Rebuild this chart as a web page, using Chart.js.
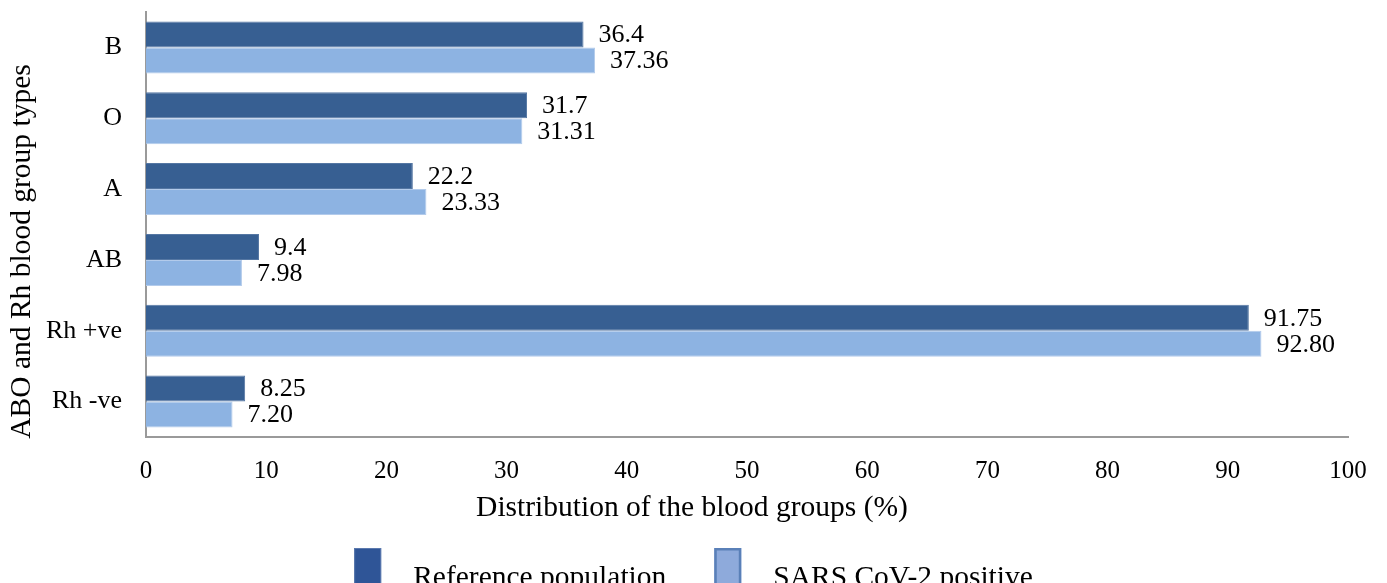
<!DOCTYPE html>
<html>
<head>
<meta charset="utf-8">
<script src="https://cdn.jsdelivr.net/npm/chart.js@4/dist/chart.umd.min.js"></script>
<style>
  html, body { margin: 0; padding: 0; background: #fff; overflow: hidden; }
  #wrap { width: 1387px; height: 583px; }
</style>
</head>
<body>
<div id="wrap"><canvas id="chart"></canvas></div>
<script>
(function () {
  const categories = ["B", "O", "A", "AB", "Rh +ve", "Rh -ve"];
  const referencePop = [36.4, 31.7, 22.2, 9.4, 91.75, 8.25];
  const sarsPositive = [37.36, 31.31, 23.33, 7.98, 92.8, 7.2];
  const referenceText = ["36.4", "31.7", "22.2", "9.4", "91.75", "8.25"];
  const sarsText = ["37.36", "31.31", "23.33", "7.98", "92.80", "7.20"];
  const xTicks = [0, 10, 20, 30, 40, 50, 60, 70, 80, 90, 100];
  const seriesNames = ["Reference population", "SARS CoV-2 positive"];

  const dark = "#375F92";
  const light = "#8DB3E2";
  const serif = "'Liberation Serif', 'Times New Roman', serif";

  // value labels to the right of each bar
  const valueLabels = {
    id: "valueLabels",
    afterDatasetsDraw: function (chart) {
      const ctx = chart.ctx;
      const texts = [referenceText, sarsText];
      ctx.save();
      ctx.font = "26px " + serif;
      ctx.fillStyle = "#000";
      ctx.textAlign = "left";
      ctx.textBaseline = "middle";
      chart.data.datasets.forEach(function (ds, i) {
        const meta = chart.getDatasetMeta(i);
        meta.data.forEach(function (bar, j) {
          ctx.fillText(texts[i][j], bar.x + 15, bar.y + 1);
        });
      });
      ctx.restore();
    },
  };

  // axis titles (off-centre like the original) and the legend underneath
  const titlesAndLegend = {
    id: "titlesAndLegend",
    afterDraw: function (chart) {
      const ctx = chart.ctx;
      const a = chart.chartArea;
      ctx.save();
      ctx.font = "29.5px " + serif;
      ctx.fillStyle = "#000";
      ctx.textAlign = "center";
      ctx.textBaseline = "middle";
      ctx.fillText("Distribution of the blood groups (%)", (a.left + a.right) / 2 - 55, a.bottom + 71);

      // legend
      const swatches = [
        { fill: "#2F5597", stroke: "#5B79AE", lw: 1 },
        { fill: "#8EAADB", stroke: "#5A80B8", lw: 2.5 },
      ];
      const boxW = 27, gap = 32, spacing = 48;
      const widths = seriesNames.map(function (t) { return ctx.measureText(t).width; });
      const total = boxW * 2 + gap * 2 + widths[0] + widths[1] + spacing;
      let x = (chart.width - total) / 2;
      const boxTop = a.bottom + 111;
      ctx.textAlign = "left";
      seriesNames.forEach(function (t, i) {
        const s = swatches[i];
        ctx.fillStyle = s.fill;
        ctx.fillRect(x, boxTop, boxW, 42);
        ctx.strokeStyle = s.stroke;
        ctx.lineWidth = s.lw;
        ctx.strokeRect(x + s.lw / 2, boxTop + s.lw / 2, boxW - s.lw, 42 - s.lw);
        ctx.fillStyle = "#000";
        ctx.fillText(t, x + boxW + gap, boxTop + 30);
        x += boxW + gap + widths[i] + spacing;
      });

      ctx.textAlign = "center";
      ctx.translate(22, (a.top + a.bottom) / 2 + 27);
      ctx.rotate(-Math.PI / 2);
      ctx.fillText("ABO and Rh blood group types", 0, 0);
      ctx.restore();
    },
  };

  new Chart(document.getElementById("chart"), {
    type: "bar",
    data: {
      labels: categories,
      datasets: [
        {
          label: seriesNames[0],
          data: referencePop,
          backgroundColor: dark,
          borderColor: "#5577A3",
          borderWidth: 1,
          categoryPercentage: 0.734,
          barPercentage: 1.0,
        },
        {
          label: seriesNames[1],
          data: sarsPositive,
          backgroundColor: light,
          borderColor: "#B3CBEB",
          borderWidth: 1,
          categoryPercentage: 0.734,
          barPercentage: 1.0,
        },
      ],
    },
    options: {
      indexAxis: "y",
      responsive: true,
      maintainAspectRatio: false,
      animation: false,
      layout: { padding: { top: 12, right: 39, bottom: 45, left: 0 } },
      plugins: {
        tooltip: { enabled: false },
        legend: { display: false },
      },
      scales: {
        x: {
          min: 0,
          max: 100,
          afterBuildTicks: function (scale) {
            scale.ticks = xTicks.map(function (v) { return { value: v }; });
          },
          afterFit: function (scale) { scale.height = 101; },
          grid: { display: false, drawTicks: false },
          border: { display: true, color: "#9A9A9A", width: 2 },
          ticks: { color: "#000", font: { family: serif, size: 25 }, padding: 19, maxRotation: 0 },
        },
        y: {
          afterFit: function (scale) { scale.width = 146; },
          grid: { display: false, drawTicks: true, tickLength: 24 },
          border: { display: true, color: "#9A9A9A", width: 2 },
          ticks: { color: "#000", font: { family: serif, size: 26, lineHeight: 0.9 }, padding: 0 },
        },
      },
    },
    plugins: [valueLabels, titlesAndLegend],
  });
})();
</script>
</body>
</html>
